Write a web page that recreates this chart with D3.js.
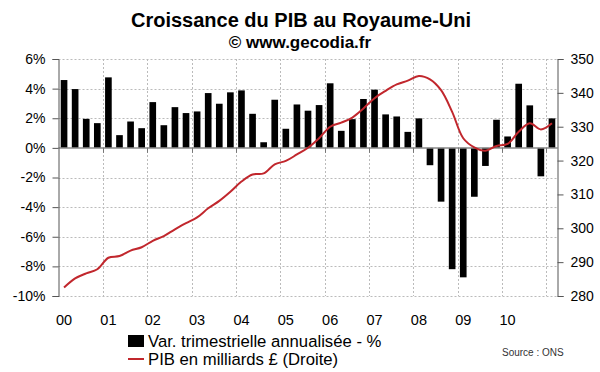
<!DOCTYPE html>
<html>
<head>
<meta charset="utf-8">
<script src="https://cdn.jsdelivr.net/npm/d3@7"></script>
<style>
  body { margin: 0; background: #fff; }
  text { font-family: "Liberation Sans", Arial, sans-serif; }
</style>
</head>
<body>
<div id="chart"></div>
<script>
// quarters 2000T1 .. 2011T1
var quarters = [
  "00T1","00T2","00T3","00T4","01T1","01T2","01T3","01T4",
  "02T1","02T2","02T3","02T4","03T1","03T2","03T3","03T4",
  "04T1","04T2","04T3","04T4","05T1","05T2","05T3","05T4",
  "06T1","06T2","06T3","06T4","07T1","07T2","07T3","07T4",
  "08T1","08T2","08T3","08T4","09T1","09T2","09T3","09T4",
  "10T1","10T2","10T3","10T4","11T1"
];

// annualised quarterly growth, %
var growth = [
  4.58, 3.97, 1.96, 1.67, 4.76, 0.86, 1.78, 1.33,
  3.09, 1.53, 2.75, 2.35, 2.46, 3.70, 2.98, 3.75,
  3.88, 2.30, 0.38, 3.25, 1.29, 2.93, 2.51, 2.89,
  4.36, 1.15, 1.94, 3.30, 3.93, 2.26, 2.12, 1.08,
  1.99, -1.17, -3.63, -8.19, -8.74, -3.30, -1.22, 1.90,
  0.77, 4.33, 2.87, -1.92, 1.99
];

// GDP, bn GBP (right axis)
var pib = [
  282.5, 285.2, 286.7, 287.9, 291.3, 291.8, 293.4, 294.4,
  296.3, 297.7, 299.7, 301.5, 303.2, 305.9, 308.1, 310.8,
  313.8, 315.9, 316.2, 318.9, 319.9, 321.8, 323.8, 326.6,
  330.0, 331.2, 332.7, 335.4, 338.4, 340.6, 342.5, 343.6,
  345.0, 344.0, 340.8, 334.4, 326.6, 323.9, 322.9, 324.3,
  324.9, 328.5, 331.0, 329.2, 331.0
];

var yearLabels = ["00","01","02","03","04","05","06","07","08","09","10"];
var leftTicks = [6, 4, 2, 0, -2, -4, -6, -8, -10];
var rightTicks = [350, 340, 330, 320, 310, 300, 290, 280];

var width = 600, height = 372;
var plotL = 58.5, plotR = 557.5, plotT = 59, plotB = 296;

var svg = d3.select("#chart").append("svg")
  .attr("width", width)
  .attr("height", height);

var x = d3.scaleBand().domain(quarters).range([plotL, plotR]).paddingInner(0.4).paddingOuter(0.2);
var yL = d3.scaleLinear().domain([-10, 6]).range([plotB, plotT]);
var yR = d3.scaleLinear().domain([280, 350]).range([plotB, plotT]);

var center = function(q) { return x(q) + x.bandwidth() / 2; };
var step = x.step();
var yearX = function(q) { return Math.round(x(q) - step * 0.2) + 0.5; };

// gridlines
svg.append("g").selectAll("line")
  .data(leftTicks.filter(d => d !== 0))
  .enter().append("line")
  .attr("x1", plotL).attr("x2", plotR)
  .attr("y1", d => Math.round(yL(d)) + 0.5).attr("y2", d => Math.round(yL(d)) + 0.5)
  .attr("stroke", "#bbb").attr("stroke-dasharray", "2,2");

var yearStarts = quarters.filter((q, i) => i % 4 === 0 && i > 0);
svg.append("g").selectAll("line")
  .data(yearStarts)
  .enter().append("line")
  .attr("x1", yearX).attr("x2", yearX)
  .attr("y1", plotT).attr("y2", plotB)
  .attr("stroke", "#bbb").attr("stroke-dasharray", "2,2");

// bars
svg.append("g").selectAll("rect")
  .data(growth)
  .enter().append("rect")
  .attr("x", (d, i) => x(quarters[i]))
  .attr("width", x.bandwidth())
  .attr("y", d => yL(Math.max(0, d)))
  .attr("height", d => Math.abs(yL(d) - yL(0)))
  .attr("fill", "#000");

// zero line with year ticks
svg.append("line")
  .attr("x1", plotL).attr("x2", plotR)
  .attr("y1", yL(0)).attr("y2", yL(0))
  .attr("stroke", "#888").attr("stroke-width", 1.5);
svg.append("g").selectAll("line")
  .data(yearStarts)
  .enter().append("line")
  .attr("x1", yearX).attr("x2", yearX)
  .attr("y1", yL(0)).attr("y2", yL(0) + 5)
  .attr("stroke", "#777");

// GDP line
var line = d3.line()
  .x((d, i) => center(quarters[i]))
  .y(d => yR(d))
  .curve(d3.curveCatmullRom.alpha(0.5));

svg.append("path")
  .attr("d", line(pib))
  .attr("fill", "none")
  .attr("stroke", "#c1272d")
  .attr("stroke-width", 2);

// left axis
var axL = d3.axisLeft(yL).tickValues(leftTicks).tickSize(6).tickPadding(7)
  .tickFormat(d => d + "%");
var gL = svg.append("g").attr("transform", "translate(" + plotL + ",0)").call(axL);
gL.select(".domain").attr("stroke", "#555");
gL.selectAll(".tick line").attr("stroke", "#555");
gL.selectAll("text").attr("font-size", 14).attr("fill", "#000")
  .style("font-family", "Liberation Sans, Arial, sans-serif");

// right axis
var axR = d3.axisRight(yR).tickValues(rightTicks).tickSize(6).tickPadding(7);
var gR = svg.append("g").attr("transform", "translate(" + plotR + ",0)").call(axR);
gR.select(".domain").attr("stroke", "#555");
gR.selectAll(".tick line").attr("stroke", "#555");
gR.selectAll("text").attr("font-size", 14).attr("fill", "#000")
  .style("font-family", "Liberation Sans, Arial, sans-serif");

// year labels
svg.append("g").selectAll("text")
  .data(yearLabels)
  .enter().append("text")
  .attr("x", (d, i) => center(quarters[i * 4]))
  .attr("y", 325)
  .attr("text-anchor", "middle")
  .attr("font-size", 14.5)
  .text(d => d);

// titles
svg.append("text").attr("x", 301).attr("y", 27).attr("text-anchor", "middle")
  .attr("font-size", 20).attr("font-weight", "bold").text("Croissance du PIB au Royaume-Uni");
svg.append("text").attr("x", 300).attr("y", 48).attr("text-anchor", "middle")
  .attr("font-size", 17).attr("font-weight", "bold").text("© www.gecodia.fr");

// legend
svg.append("rect").attr("x", 128).attr("y", 335).attr("width", 16).attr("height", 12).attr("fill", "#000");
svg.append("text").attr("x", 148).attr("y", 347).attr("font-size", 16.7)
  .text("Var. trimestrielle annualisée - %");
svg.append("line").attr("x1", 128).attr("x2", 144).attr("y1", 359).attr("y2", 359)
  .attr("stroke", "#c1272d").attr("stroke-width", 2);
svg.append("text").attr("x", 148).attr("y", 365).attr("font-size", 16.7)
  .text("PIB en milliards £ (Droite)");

svg.append("text").attr("x", 502).attr("y", 356).attr("font-size", 10)
  .attr("fill", "#333").text("Source : ONS");
</script>
</body>
</html>
